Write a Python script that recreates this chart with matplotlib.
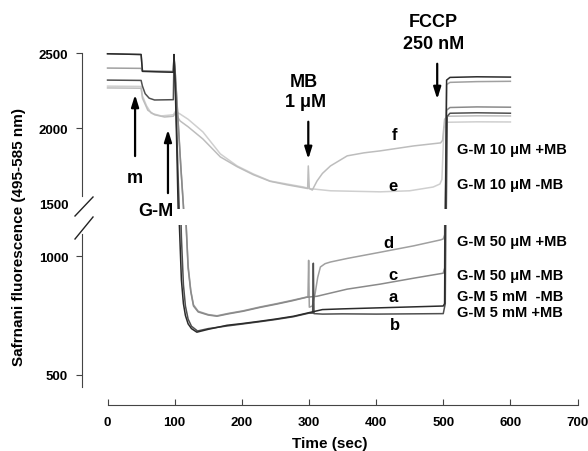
import matplotlib.pyplot as plt
from matplotlib.lines import Line2D

plt.rcParams['font.family'] = ['Liberation Sans', 'DejaVu Sans']
plt.rcParams['font.weight'] = 'bold'
plt.rcParams['axes.labelweight'] = 'bold'

# a: G-M 5 mM -MB
t_a = [0, 50, 52, 98, 99, 101, 103, 105, 107, 110, 113, 116, 120, 125, 133, 150, 178, 200, 227,
       250, 277, 300, 320, 350, 400, 450, 500, 502, 505, 510, 550, 600]
y_a = [2495, 2490, 2378, 2372, 2490, 2250, 1900, 1500, 1130, 900, 800, 750, 715, 695, 680, 692, 709, 716, 726,
       735, 747, 762, 775, 778, 782, 786, 790, 800, 2320, 2338, 2342, 2340]

# b: G-M 5 mM +MB
t_b = [0, 50, 52, 56, 62, 70, 98, 99, 101, 103, 105, 108, 110, 113, 116, 120, 125, 134, 150, 178, 200,
       227, 250, 277, 300, 305.5, 306.5, 307.5, 320, 350, 400, 450, 500, 503, 506, 510, 550, 600]
y_b = [2320, 2318, 2280, 2230, 2200, 2188, 2190, 2480, 2300, 2000, 1700, 1300, 1080, 880, 790, 735, 705, 685, 695, 706, 714,
       724, 733, 745, 760, 760, 970, 758, 756, 757, 756, 757, 758, 800, 2080, 2100, 2103, 2100]

# c: G-M 50 uM -MB
t_c = [0, 50, 52, 98, 99, 101, 105, 109, 113, 117, 120, 124, 128, 135, 150, 163, 180, 202, 227, 252, 275,
       297, 312, 357, 406, 456, 500, 502, 505, 510, 550, 600]
y_c = [2495, 2490, 2380, 2375, 2470, 2350, 2050, 1750, 1480, 1130, 950, 850, 790, 765, 752, 747, 757, 768, 784, 798, 812,
       827, 831, 861, 882, 907, 928, 950, 2120, 2138, 2142, 2140]

# d: G-M 50 uM +MB
t_d = [0, 50, 52, 98, 99, 101, 105, 109, 113, 117, 120, 124, 128, 135, 150, 163, 180, 202, 227, 252, 275,
       297, 298.5, 299.5, 300.5, 305, 309, 313, 317, 324, 332, 357, 406, 456, 496, 500, 502, 505, 510, 550, 600]
y_d = [2400, 2398, 2380, 2378, 2480, 2360, 2060, 1760, 1490, 1140, 960, 855, 795, 768, 754, 749, 759, 770, 786, 800, 814,
       828, 828, 982, 785, 790, 840, 910, 954, 968, 975, 990, 1016, 1043, 1068, 1072, 1090, 2290, 2305, 2310, 2312]

# e: G-M 10 uM -MB
t_e = [0, 50, 52, 58, 65, 80, 98, 101, 108, 120, 142, 168, 193, 217, 242, 267, 292, 300, 332, 406, 450,
       485, 495, 498, 501, 505, 550, 600]
y_e = [2280, 2278, 2215, 2150, 2100, 2082, 2090, 2112, 2095, 2060, 1976, 1830, 1750, 1697, 1650, 1630, 1610, 1600, 1585, 1578, 1585,
       1610, 1630, 1660, 2000, 2040, 2043, 2042]

# f: G-M 10 uM +MB
t_f = [0, 50, 52, 60, 70, 85, 98, 101, 108, 120, 142, 168, 193, 217, 242, 267, 292, 298, 299, 300.5, 305,
       312, 320, 332, 357, 382, 406, 456, 496, 499, 502, 506, 550, 600]
y_f = [2268, 2266, 2200, 2120, 2090, 2075, 2080, 2100, 2049, 2010, 1929, 1810, 1745, 1692, 1648, 1625, 1605, 1600, 1750, 1600, 1590,
       1650, 1700, 1750, 1817, 1837, 1850, 1883, 1903, 1920, 2060, 2080, 2083, 2082]

traces = [(t_e, y_e, '#cfcfcf'), (t_f, y_f, '#bdbdbd'), (t_d, y_d, '#a0a0a0'),
          (t_c, y_c, '#8a8a8a'), (t_b, y_b, '#505050'), (t_a, y_a, '#2b2b2b')]

fig = plt.figure(figsize=(5.88, 4.52), dpi=100)
ax_top = fig.add_axes([0.1395, 0.5354, 0.8427, 0.3761])
ax_bot = fig.add_axes([0.1395, 0.1416, 0.8427, 0.3584])

for ax in (ax_top, ax_bot):
    for t, y, c in traces:
        ax.plot(t, y, color=c, lw=1.1)
    ax.set_xlim(-38, 700)
    for s in ('top', 'right'):
        ax.spines[s].set_visible(False)
    ax.spines['left'].set_color('#444444')
    ax.tick_params(axis='y', direction='out', length=4, color='#444444', labelsize=9.5, pad=6)

ax_top.set_ylim(1464, 2593)
ax_top.spines['bottom'].set_visible(False)
ax_top.spines['left'].set_bounds(1551, 2500)
ax_top.set_yticks([1500, 2000, 2500])
ax_top.yaxis.get_major_ticks()[0].tick1line.set_visible(False)
ax_top.tick_params(axis='x', bottom=False, labelbottom=False)

ax_bot.set_ylim(449.5, 1130.6)
ax_bot.spines['left'].set_bounds(449.5, 1093)
ax_bot.set_yticks([500, 1000])
ax_bot.spines['bottom'].set_position(('outward', 13))
ax_bot.spines['bottom'].set_bounds(0, 700)
ax_bot.spines['bottom'].set_color('#444444')
ax_bot.set_xticks(range(0, 701, 100))
ax_bot.tick_params(axis='x', direction='in', length=4, color='#444444', labelsize=9.5, pad=8)
ax_bot.set_xlabel('Time (sec)', fontsize=11, labelpad=6)

fig.text(0.032, 0.475, 'Safrnani fluorescence (495-585 nm)', rotation=90,
         ha='center', va='center', fontsize=11)

# axis break marks
for y0, y1 in ((217, 198), (240, 218)):
    fig.add_artist(Line2D([75 / 588, 93 / 588], [1 - y0 / 452, 1 - y1 / 452],
                          color='#222222', lw=1))

arrow = dict(arrowstyle='-|>,head_length=0.7,head_width=0.22', color='black', lw=1.6)
ax_top.annotate('', xy=(41, 2241), xytext=(41, 1797), arrowprops=arrow)
ax_top.text(41, 1670, 'm', ha='center', va='center', fontsize=13)
ax_top.annotate('', xy=(90, 2009), xytext=(90, 1551), arrowprops=arrow, annotation_clip=False)
ax_top.text(72, 1452, 'G-M', ha='center', va='center', fontsize=13)
ax_top.annotate('', xy=(299, 1777), xytext=(299, 2062), arrowprops=arrow)
ax_top.text(292, 2308, 'MB', ha='center', va='center', fontsize=13)
ax_top.text(295, 2181, '1 μM', ha='center', va='center', fontsize=13)
ax_top.annotate('', xy=(491, 2175), xytext=(491, 2447), arrowprops=arrow)
ax_top.text(485, 2706, 'FCCP', ha='center', va='center', fontsize=13)
ax_top.text(485, 2560, '250 nM', ha='center', va='center', fontsize=13)

ax_top.text(428, 1962, 'f', ha='center', va='center', fontsize=12)
ax_top.text(425, 1617, 'e', ha='center', va='center', fontsize=12)
ax_bot.text(418, 1059, 'd', ha='center', va='center', fontsize=12)
ax_bot.text(425, 924, 'c', ha='center', va='center', fontsize=12)
ax_bot.text(425, 832, 'a', ha='center', va='center', fontsize=12)
ax_bot.text(428, 714, 'b', ha='center', va='center', fontsize=12)

ax_top.text(521, 1863, 'G-M 10 μM +MB', ha='left', va='center', fontsize=10.5)
ax_top.text(521, 1631, 'G-M 10 μM -MB', ha='left', va='center', fontsize=10.5)
ax_bot.text(521, 1063, 'G-M 50 μM +MB', ha='left', va='center', fontsize=10.5)
ax_bot.text(521, 920, 'G-M 50 μM -MB', ha='left', va='center', fontsize=10.5)
ax_bot.text(521, 832, 'G-M 5 mM  -MB', ha='left', va='center', fontsize=10.5)
ax_bot.text(521, 764, 'G-M 5 mM +MB', ha='left', va='center', fontsize=10.5)

fig.savefig('out.png', dpi=100)
